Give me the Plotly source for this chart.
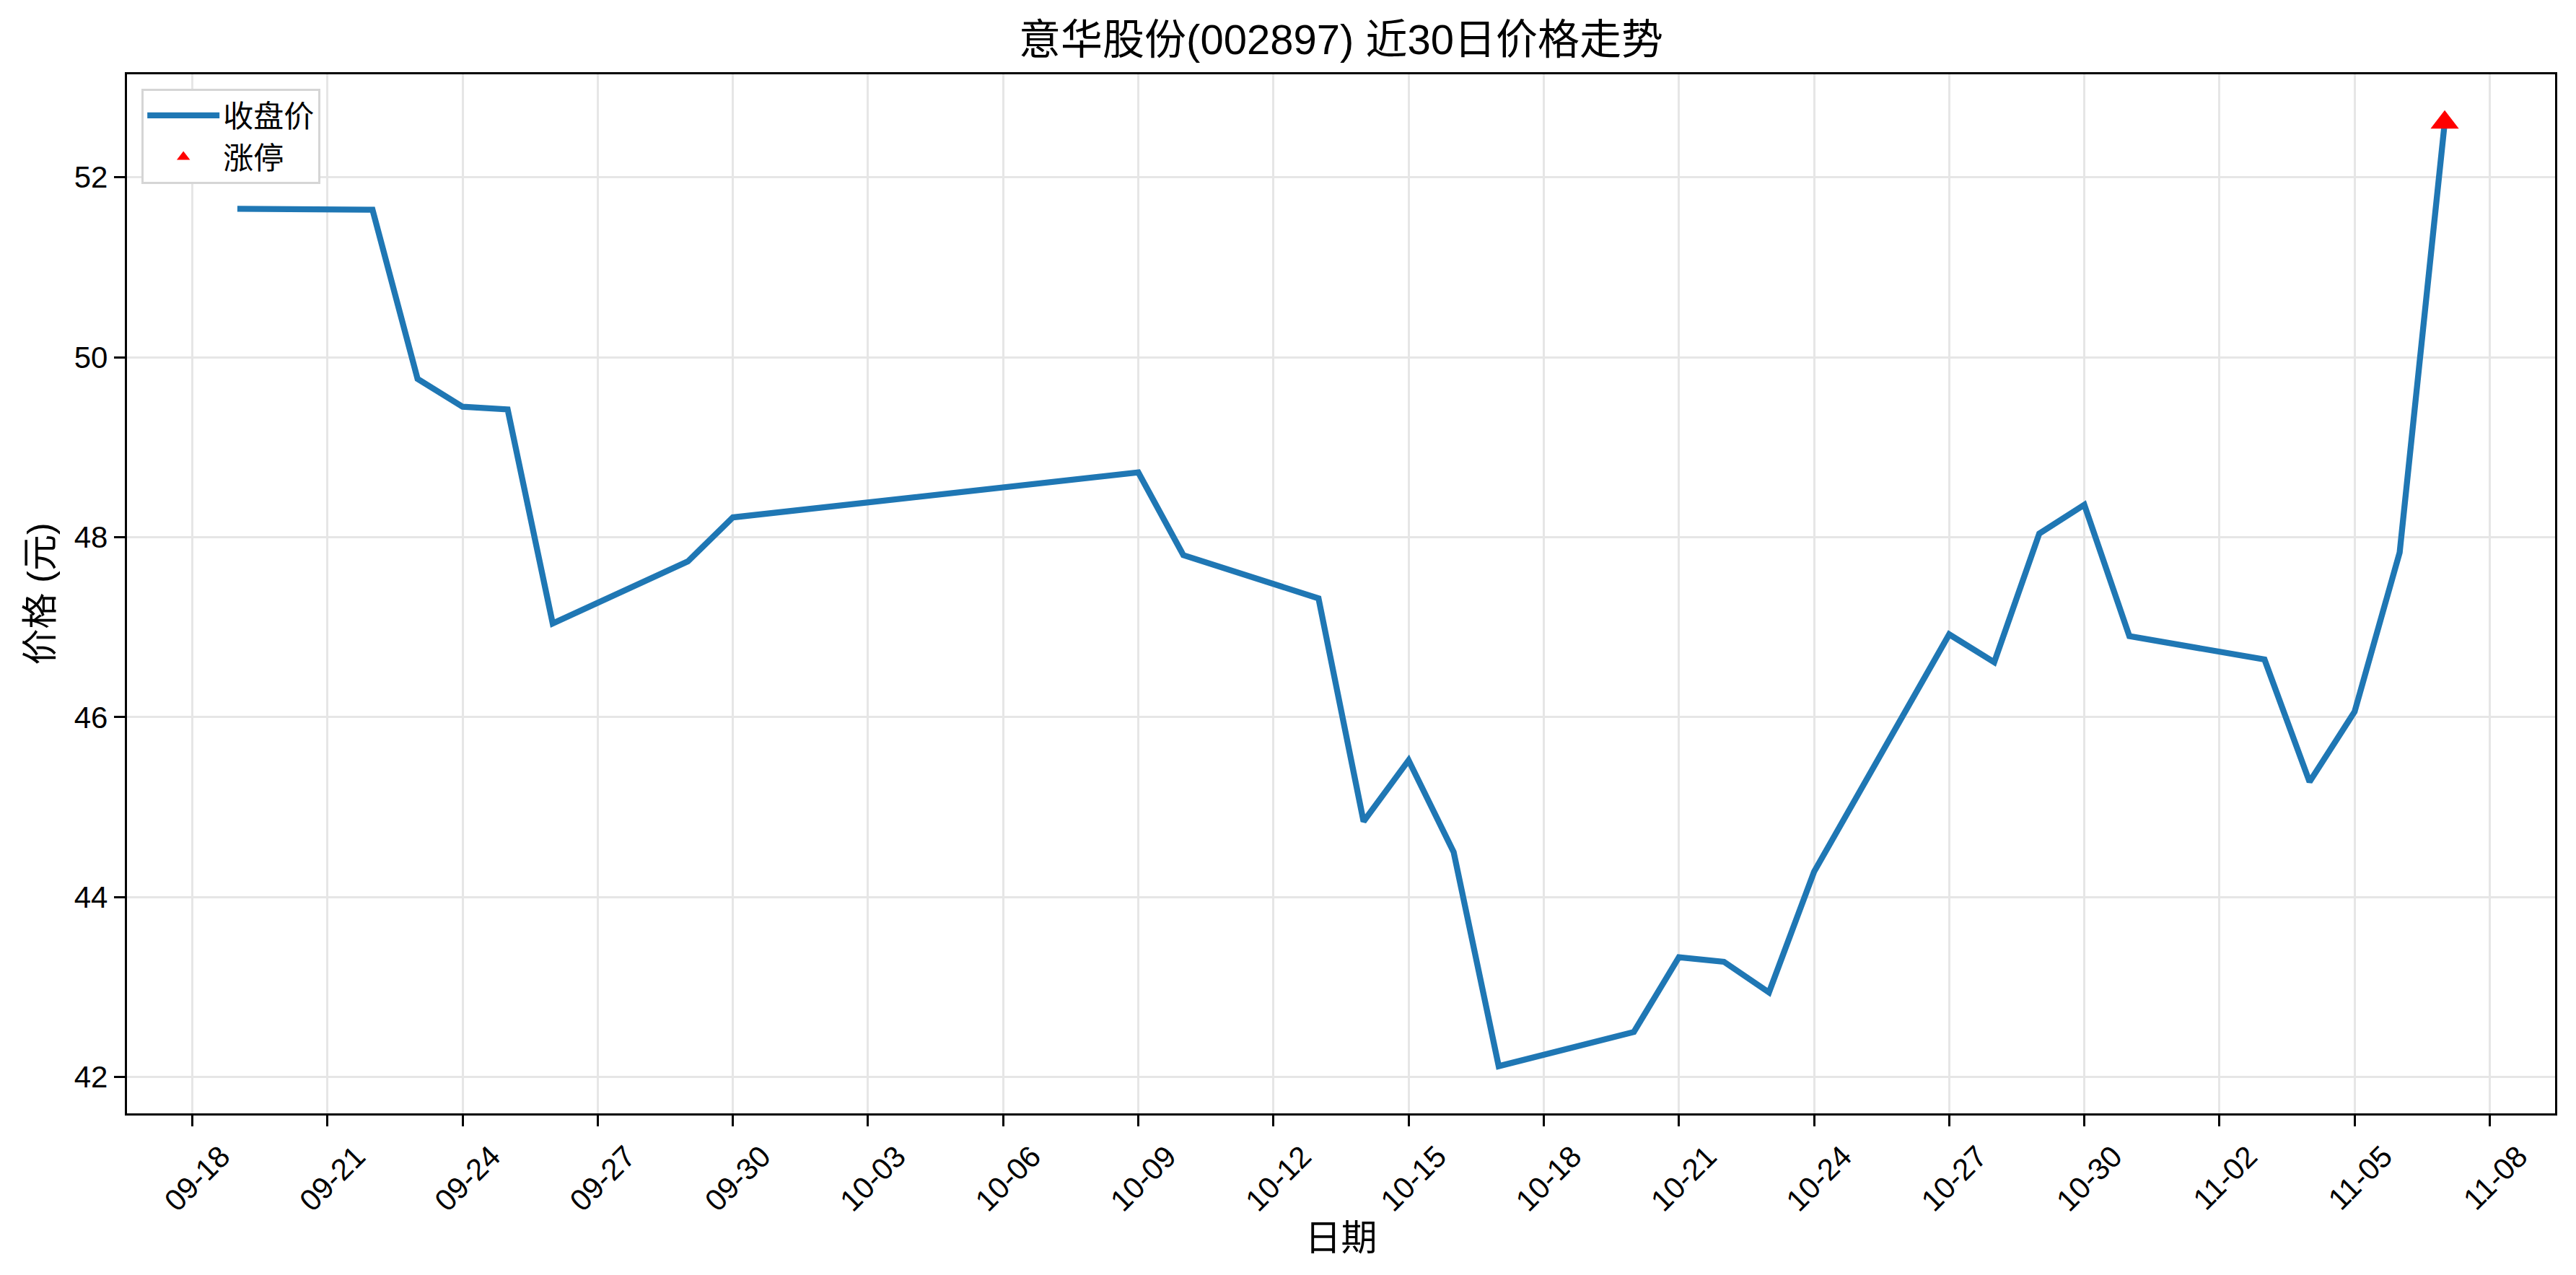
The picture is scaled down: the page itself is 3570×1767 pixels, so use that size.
import plotly.graph_objects as go
from datetime import date, timedelta

# ---- data ----
dates = ["2025-09-19", "2025-09-22", "2025-09-23", "2025-09-24", "2025-09-25", "2025-09-26",
         "2025-09-29", "2025-09-30", "2025-10-09", "2025-10-10", "2025-10-13", "2025-10-14",
         "2025-10-15", "2025-10-16", "2025-10-17", "2025-10-20", "2025-10-21", "2025-10-22",
         "2025-10-23", "2025-10-24", "2025-10-27", "2025-10-28", "2025-10-29", "2025-10-30",
         "2025-10-31", "2025-11-03", "2025-11-04", "2025-11-05", "2025-11-06", "2025-11-07"]
close = [51.65, 51.64, 49.76, 49.45, 49.42, 47.04,
         47.73, 48.22, 48.72, 47.80, 47.32, 44.84,
         45.52, 44.50, 42.12, 42.50, 43.33, 43.28,
         42.94, 44.28, 46.92, 46.61, 48.04, 48.36,
         46.90, 46.64, 45.28, 46.06, 47.83, 52.61]
limit_up_dates = ["2025-11-07"]
limit_up_prices = [52.61]

x_tick_dates = [(date(2025, 9, 18) + timedelta(days=3 * i)) for i in range(18)]
x_tick_vals = [d.isoformat() for d in x_tick_dates]
x_tick_text = [d.strftime("%m-%d") for d in x_tick_dates]
y_tick_vals = [42, 44, 46, 48, 50, 52]

title_text = "意华股份(002897) 近30日价格走势"
x_title = "日期"
y_title = "价格 (元)"

FONT = "Liberation Sans, Arial, 'Noto Sans CJK SC', sans-serif"

W, H = 3562, 1759  # page body has an 8px default margin

fig = go.Figure()
fig.add_trace(go.Scatter(x=dates, y=close, mode="lines", name="收盘价",
                         line=dict(color="#1f77b4", width=8.3)))
fig.add_trace(go.Scatter(x=limit_up_dates, y=limit_up_prices, mode="markers", name="涨停",
                         marker=dict(symbol="triangle-up", color="red", size=34, line=dict(width=0))))

axis_common = dict(
    showline=True, linecolor="black", linewidth=3.3, mirror=True,
    ticks="outside", ticklen=15, tickwidth=3.3, tickcolor="black",
    showgrid=True, gridcolor="#e6e6e6", gridwidth=3.3,
    zeroline=False,
    tickfont=dict(family=FONT, size=42, color="black"),
)

fig.update_layout(
    width=W, height=H,
    margin=dict(l=168, r=29, t=95, b=224, pad=0),
    paper_bgcolor="white", plot_bgcolor="white",
    font=dict(family=FONT, color="black"),
    title=dict(text=title_text, x=0.5, xref="paper", y=1 - 47 / H, yref="container",
               xanchor="center", yanchor="middle",
               font=dict(family=FONT, size=58, color="black")),
    xaxis=dict(type="date",
               range=["2025-09-16 13:12", "2025-11-09 10:48"],
               tickmode="array", tickvals=x_tick_vals, ticktext=x_tick_text,
               tickangle=-45, ticklabelshift=40,
               title=dict(text=x_title, font=dict(family=FONT, size=50), standoff=10),
               **axis_common),
    yaxis=dict(range=[41.595, 53.145], tickmode="array", tickvals=y_tick_vals,
               ticktext=[str(v) for v in y_tick_vals],
               title=dict(text=y_title, font=dict(family=FONT, size=50), standoff=14),
               **axis_common),
    legend=dict(x=0.006, y=0.986, xanchor="left", yanchor="top",
                bgcolor="white", bordercolor="#d5d5d5", borderwidth=3,
                font=dict(family=FONT, size=42, color="black"),
                itemwidth=100, tracegroupgap=0),
    showlegend=True,
)

fig.write_html("out.html")
